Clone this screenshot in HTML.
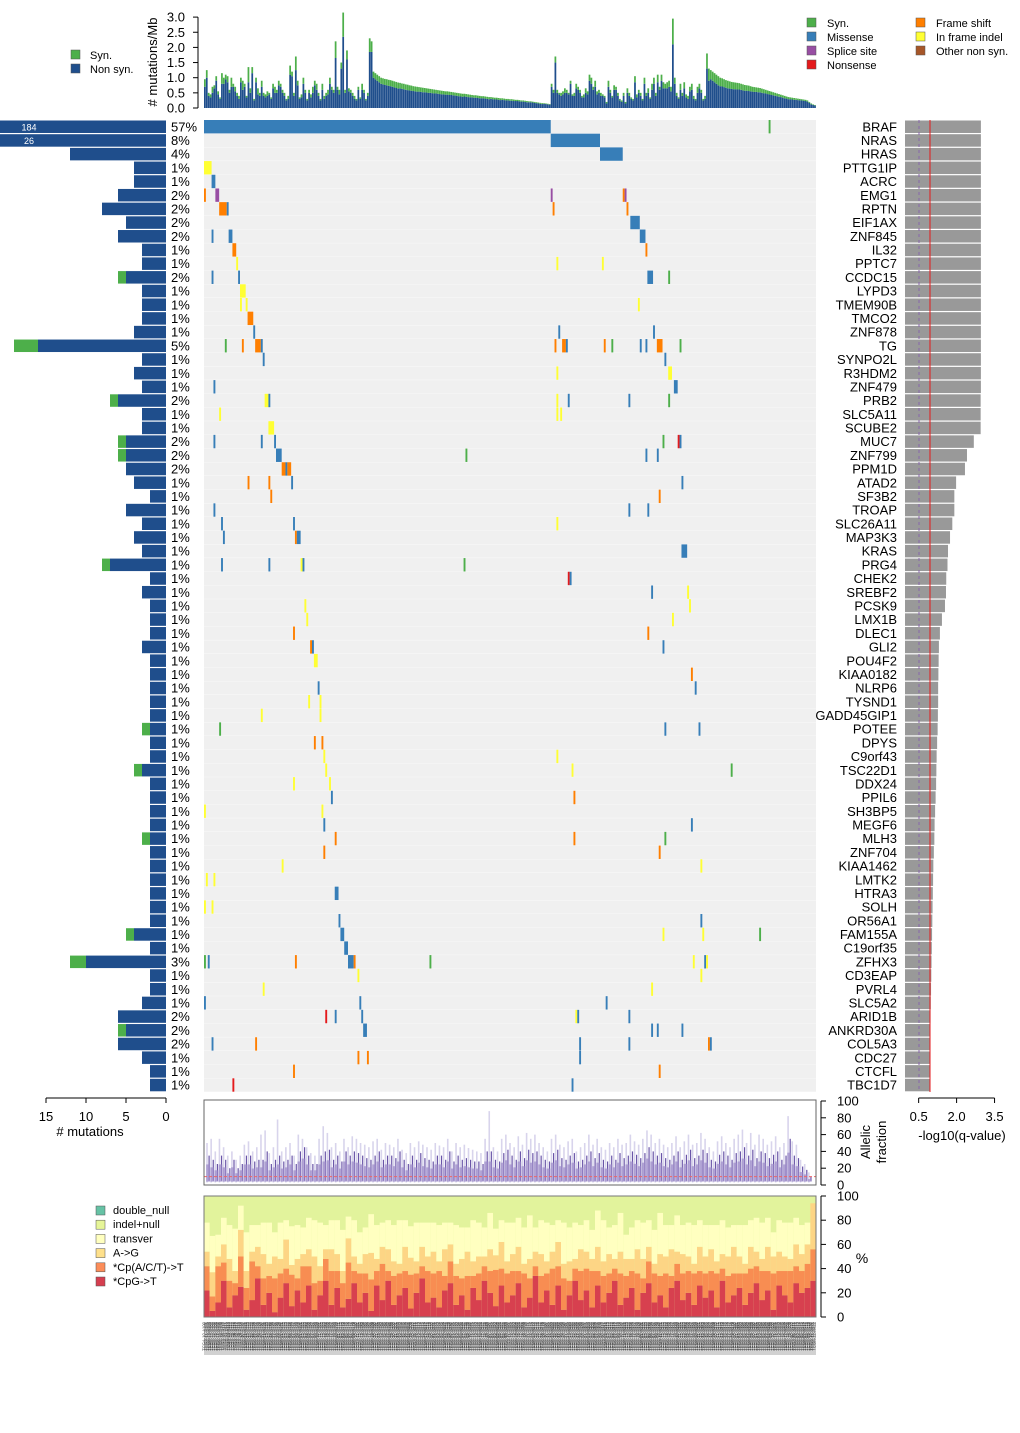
<!DOCTYPE html>
<html><head><meta charset="utf-8"><style>
body{margin:0;background:#fff;}
svg text{font-family:"Liberation Sans",sans-serif;}
</style></head><body>
<svg id="c" width="1020" height="1428" viewBox="0 0 1020 1428" xmlns="http://www.w3.org/2000/svg"></svg>
<script>
// ---------- data ----------
const genes=["BRAF","NRAS","HRAS","PTTG1IP","ACRC","EMG1","RPTN","EIF1AX","ZNF845","IL32","PPTC7","CCDC15","LYPD3","TMEM90B","TMCO2","ZNF878","TG","SYNPO2L","R3HDM2","ZNF479","PRB2","SLC5A11","SCUBE2","MUC7","ZNF799","PPM1D","ATAD2","SF3B2","TROAP","SLC26A11","MAP3K3","KRAS","PRG4","CHEK2","SREBF2","PCSK9","LMX1B","DLEC1","GLI2","POU4F2","KIAA0182","NLRP6","TYSND1","GADD45GIP1","POTEE","DPYS","C9orf43","TSC22D1","DDX24","PPIL6","SH3BP5","MEGF6","MLH3","ZNF704","KIAA1462","LMTK2","HTRA3","SOLH","OR56A1","FAM155A","C19orf35","ZFHX3","CD3EAP","PVRL4","SLC5A2","ARID1B","ANKRD30A","COL5A3","CDC27","CTCFL","TBC1D7"];
const pcts=["57%","8%","4%","1%","1%","2%","2%","2%","2%","1%","1%","2%","1%","1%","1%","1%","5%","1%","1%","1%","2%","1%","1%","2%","2%","2%","1%","1%","1%","1%","1%","1%","1%","1%","1%","1%","1%","1%","1%","1%","1%","1%","1%","1%","1%","1%","1%","1%","1%","1%","1%","1%","1%","1%","1%","1%","1%","1%","1%","1%","1%","3%","1%","1%","1%","2%","2%","2%","1%","1%","1%"];
const nonsynCounts=[184,26,12,4,4,6,8,5,6,3,3,5,3,3,3,4,16,3,4,3,6,3,3,5,5,5,4,2,5,3,4,3,7,2,3,2,2,2,3,2,2,2,2,2,2,2,2,3,2,2,2,2,2,2,2,2,2,2,2,4,2,10,2,2,3,6,5,6,3,2,2];
const synCounts=[0,0,0,0,0,0,0,0,0,0,0,1,0,0,0,0,3,0,0,0,1,0,0,1,1,0,0,0,0,0,0,0,1,0,0,0,0,0,0,0,0,0,0,0,1,0,0,1,0,0,0,0,1,0,0,0,0,0,0,1,0,2,0,0,0,0,1,0,0,0,0];
const qvals=[3.0,3.0,3.0,3.0,3.0,3.0,3.0,3.0,3.0,3.0,3.0,3.0,3.0,3.0,3.0,3.0,3.0,3.0,3.0,3.0,2.99,2.99,2.99,2.72,2.45,2.37,2.02,1.95,1.95,1.87,1.78,1.7,1.68,1.63,1.62,1.58,1.46,1.38,1.34,1.33,1.32,1.31,1.31,1.3,1.29,1.27,1.25,1.24,1.23,1.21,1.19,1.17,1.16,1.14,1.12,1.11,1.1,1.09,1.08,1.07,1.06,1.05,1.04,1.03,1.02,1.01,1.0,1.0,0.99,0.98,0.98];
const muts=[[0,0,182,1],[0,298,298,0],[1,183,208,1],[2,209,220,1],[3,0,3,5],[4,4,5,1],
[5,0,0,4],[5,6,7,2],[5,183,183,2],[5,221,221,4],[5,222,222,2],
[6,8,11,4],[6,12,12,1],[6,184,184,4],[6,223,223,4],[7,225,229,1],
[8,4,4,1],[8,13,14,1],[8,230,232,1],[9,15,16,4],[9,233,233,4],
[10,17,17,5],[10,186,186,5],[10,210,210,5],
[11,4,4,1],[11,18,18,1],[11,234,236,1],[11,245,245,0],[12,19,21,5],
[13,19,19,5],[13,22,22,5],[13,229,229,5],[14,23,25,4],
[15,26,26,1],[15,187,187,1],[15,237,237,1],
[16,11,11,0],[16,20,20,4],[16,27,29,4],[16,30,30,1],[16,185,185,4],[16,189,190,4],[16,191,191,1],[16,211,211,4],[16,215,215,0],[16,230,230,1],[16,233,233,1],[16,239,241,4],[16,251,251,0],
[17,31,31,1],[17,243,243,1],[18,186,186,5],[18,245,246,5],[19,5,5,1],[19,248,249,1],
[20,32,33,5],[20,34,34,1],[20,186,186,5],[20,192,192,1],[20,224,224,1],[20,245,245,0],
[21,8,8,5],[21,186,186,5],[21,188,188,5],[22,34,36,5],
[23,5,5,1],[23,30,30,1],[23,37,37,1],[23,242,242,0],[23,250,250,3],[23,251,251,1],
[24,38,40,1],[24,138,138,0],[24,233,233,1],[24,239,239,1],
[25,41,42,4],[25,43,43,1],[25,44,45,4],
[26,23,23,4],[26,34,34,4],[26,46,46,1],[26,252,252,1],[27,35,35,4],[27,240,240,4],
[28,5,5,1],[28,224,224,1],[28,234,234,1],[29,9,9,1],[29,47,47,1],[29,186,186,5],
[30,10,10,1],[30,48,48,4],[30,49,50,1],[31,252,254,1],
[32,9,9,1],[32,34,34,1],[32,51,51,5],[32,52,52,1],[32,137,137,0],
[33,192,192,3],[33,193,193,1],[34,236,236,1],[34,255,255,5],[35,53,53,5],[35,256,256,5],
[36,54,54,5],[36,247,247,5],[37,47,47,4],[37,234,234,4],[38,56,56,4],[38,57,57,1],[38,242,242,1],
[39,58,59,5],[40,257,257,4],[41,60,60,1],[41,259,259,1],[42,55,55,5],[42,61,61,5],[43,30,30,5],[43,61,61,5],
[44,8,8,0],[44,243,243,1],[44,261,261,1],[45,58,58,4],[45,62,62,4],[46,63,63,5],[46,186,186,5],
[47,64,64,5],[47,194,194,5],[47,278,278,0],[48,47,47,5],[48,66,66,5],[49,67,67,1],[49,195,195,4],
[50,0,0,5],[50,62,62,5],[51,63,63,1],[51,257,257,1],[52,69,69,4],[52,195,195,4],[52,243,243,0],
[53,63,63,4],[53,240,240,4],[54,41,41,5],[54,262,262,5],[55,1,1,5],[55,5,5,5],[56,69,70,1],
[57,0,0,5],[57,4,4,5],[58,71,71,1],[58,262,262,1],
[59,72,73,1],[59,242,242,5],[59,263,263,5],[59,293,293,0],[60,74,75,1],
[61,0,0,0],[61,2,2,1],[61,48,48,4],[61,76,78,1],[61,79,79,4],[61,119,119,0],[61,258,258,5],[61,264,264,1],[61,265,265,5],
[62,81,81,5],[62,262,262,5],[63,31,31,5],[63,236,236,5],[64,0,0,1],[64,82,82,1],[64,212,212,1],
[65,64,64,3],[65,69,69,1],[65,83,83,1],[65,196,196,5],[65,197,197,1],[65,224,224,1],
[66,84,85,1],[66,236,236,1],[66,239,239,1],[66,252,252,1],
[67,4,4,1],[67,27,27,4],[67,198,198,1],[67,224,224,1],[67,266,266,4],[67,267,267,1],
[68,81,81,4],[68,86,86,4],[68,198,198,1],[69,47,47,4],[69,240,240,4],[70,15,15,3],[70,194,194,1]];
const mutColors=["#4daf4a","#377eb8","#984ea3","#e41a1c","#ff7f00","#ffff33","#a65628"];
const totRate=[0.95,1.25,0.5,0.45,0.7,0.75,1.05,0.55,0.35,1.15,1.0,1.1,1.05,0.6,1.0,0.8,0.7,0.5,0.4,1.0,0.9,0.8,0.4,1.35,0.65,1.35,0.3,1.0,0.65,0.5,0.9,0.5,0.45,0.55,0.5,0.35,0.8,0.7,0.6,0.9,0.8,0.6,0.5,0.3,0.4,1.4,1.2,0.5,1.7,0.9,0.35,0.45,1.0,0.6,0.3,0.6,0.45,0.7,0.9,0.8,0.5,0.3,0.8,0.4,0.5,0.6,1.0,0.7,0.6,2.2,0.7,0.6,1.5,3.15,0.6,1.9,0.65,0.6,0.5,0.4,0.3,0.7,0.35,0.8,0.6,0.3,0.5,2.3,2.2,1.2,1.15,1.1,1.05,
1.0,0.98,0.96,0.95,0.93,0.92,0.9,0.88,0.86,0.84,0.83,0.81,0.8,0.78,0.77,0.75,0.74,0.72,0.71,0.7,0.69,0.68,0.67,0.66,0.65,0.64,0.63,0.62,0.61,0.6,0.59,0.58,0.57,0.56,0.55,0.55,0.54,0.53,0.52,0.51,0.5,0.49,0.48,0.47,0.47,0.46,0.45,0.44,0.43,0.42,0.42,0.41,0.4,0.39,0.39,0.38,0.37,0.36,0.36,0.35,0.34,0.34,0.33,0.32,0.32,0.31,0.3,0.3,0.29,0.29,0.28,0.27,0.27,0.26,0.25,0.25,0.24,0.23,0.22,0.22,0.21,0.2,0.19,0.18,0.17,0.16,0.16,0.15,0.14,0.13,
0.8,0.6,1.7,0.6,0.5,0.5,0.55,0.65,0.6,0.5,0.9,0.45,0.5,0.8,0.7,0.6,0.4,0.45,0.65,0.55,1.1,1.0,0.7,0.9,0.55,0.6,0.5,0.45,0.4,0.2,0.9,0.6,0.4,0.75,0.7,0.5,0.3,0.25,0.5,
0.2,0.65,0.5,0.35,0.3,1.05,0.45,0.6,0.5,0.3,1.0,0.5,0.65,0.35,0.8,1.0,0.5,1.1,0.7,1.1,0.85,0.8,0.85,0.9,0.7,2.95,1.0,0.5,0.35,0.8,0.5,0.85,0.45,0.4,0.7,0.8,0.4,0.3,0.7,0.8,0.6,0.3,0.4,1.8,1.3,1.25,
1.2,1.15,1.1,1.05,1.0,0.98,0.95,0.92,0.9,0.88,0.86,0.85,0.84,0.83,0.82,0.8,0.78,0.76,0.75,0.74,0.72,0.7,0.69,0.68,0.67,0.66,0.64,0.62,0.6,0.58,0.56,0.54,0.52,0.5,0.48,0.46,0.44,0.42,0.4,0.38,0.36,0.35,0.34,0.33,0.32,0.31,0.3,0.29,0.28,0.27,0.25,0.2,0.15,0.12,0.1];
const synRate=[0.25,0.25,0.1,0.1,0.2,0.1,0.15,0.1,0.05,0.35,0.2,0.15,0.2,0.1,0.3,0.1,0.15,0.1,0.1,0.15,0.3,0.1,0.05,0.5,0.15,0.2,0.05,0.15,0.2,0.1,0.2,0.1,0.1,0.15,0.05,0.05,0.15,0.2,0.1,0.15,0.1,0.1,0.1,0.05,0.1,0.3,0.15,0.1,0.45,0.15,0.05,0.1,0.2,0.1,0.05,0.1,0.1,0.2,0.15,0.2,0.1,0.05,0.2,0.1,0.1,0.15,0.2,0.1,0.1,0.55,0.1,0.15,0.2,0.8,0.1,0.3,0.1,0.1,0.1,0.1,0.05,0.1,0.05,0.2,0.1,0.05,0.1,0.45,0.35,0.2,0.2,0.2,0.2,
0.2,0.2,0.2,0.2,0.2,0.2,0.2,0.2,0.2,0.2,0.18,0.18,0.18,0.18,0.18,0.17,0.17,0.16,0.16,0.16,0.15,0.15,0.15,0.14,0.14,0.14,0.13,0.13,0.13,0.12,0.12,0.12,0.12,0.11,0.11,0.11,0.11,0.1,0.1,0.1,0.1,0.1,0.1,0.1,0.09,0.09,0.09,0.09,0.08,0.08,0.08,0.08,0.08,0.07,0.07,0.07,0.07,0.07,0.06,0.06,0.06,0.06,0.06,0.06,0.05,0.05,0.05,0.05,0.05,0.05,0.05,0.04,0.04,0.04,0.04,0.04,0.04,0.04,0.03,0.03,0.03,0.03,0.03,0.03,0.03,0.03,0.02,0.02,0.02,0.02,
0.1,0.1,0.2,0.1,0.05,0.1,0.1,0.15,0.1,0.05,0.1,0.05,0.1,0.15,0.1,0.1,0.05,0.1,0.15,0.1,0.2,0.2,0.1,0.2,0.1,0.1,0.1,0.05,0.05,0.05,0.2,0.1,0.05,0.15,0.1,0.1,0.05,0.05,0.1,
0.05,0.15,0.1,0.05,0.05,0.2,0.1,0.1,0.1,0.05,0.2,0.1,0.15,0.05,0.2,0.2,0.1,0.25,0.1,0.2,0.2,0.15,0.2,0.2,0.15,0.85,0.2,0.1,0.05,0.2,0.1,0.2,0.1,0.1,0.15,0.2,0.1,0.05,0.2,0.15,0.1,0.05,0.1,0.5,0.4,0.3,
0.3,0.3,0.3,0.3,0.28,0.27,0.26,0.25,0.25,0.24,0.23,0.23,0.22,0.22,0.21,0.2,0.2,0.19,0.18,0.18,0.17,0.16,0.16,0.15,0.15,0.14,0.14,0.13,0.12,0.12,0.11,0.11,0.1,0.1,0.09,0.09,0.08,0.08,0.08,0.07,0.07,0.06,0.06,0.06,0.05,0.05,0.05,0.04,0.04,0.04,0.04,0.03,0.03,0.02,0.02];
const afHigh=[50,55,40,55,45,35,40,30,35,48,52,40,45,60,65,38,45,78,40,45,50,35,60,55,45,38,35,55,70,62,45,50,40,55,45,58,55,50,48,45,52,55,42,50,48,45,55,42,38,50,45,52,48,45,42,50,47,45,55,40,50,45,48,44,42,40,38,55,88,45,40,55,60,50,45,58,48,62,55,60,50,45,40,55,60,48,45,52,55,40,45,50,60,48,55,45,42,50,45,55,48,50,60,52,48,55,65,60,50,55,48,45,50,58,45,52,60,48,50,62,55,45,40,52,58,50,45,55,60,66,50,62,48,60,55,48,52,58,45,50,82,52,48,30,25,15];
const afMid=[35,30,25,35,30,20,30,20,25,35,35,28,30,30,40,25,30,35,28,30,35,25,40,45,35,25,25,35,40,42,30,35,28,40,35,40,38,35,32,30,35,40,30,35,35,32,40,30,25,35,30,38,32,30,28,35,35,30,40,28,35,30,32,30,28,28,25,40,40,30,28,38,42,35,30,40,32,42,38,40,35,30,28,38,42,32,30,35,38,28,30,35,40,32,38,30,28,35,30,38,32,35,40,36,32,38,45,40,35,38,32,30,35,40,30,36,42,32,35,42,38,30,28,36,40,35,30,38,40,45,35,42,32,40,38,32,36,40,30,35,55,35,32,22,18,10];
const cpgT=[22,5,12,30,8,18,25,6,14,32,10,20,4,16,28,9,22,12,26,6,18,30,10,24,8,15,28,12,20,5,26,14,30,10,18,24,7,20,32,12,16,8,22,28,10,18,6,24,14,30,20,9,26,12,18,28,8,16,34,12,22,10,26,6,18,30,14,22,8,26,12,20,30,10,16,24,6,20,28,12,18,8,24,30,14,20,10,26,16,22,8,30,12,18,24,10,20,28,14,22,6,26,18,12,28,20,24,30];
const cpaT=[20,12,30,15,22,10,25,18,32,10,22,14,28,20,12,26,10,30,16,22,12,18,28,14,20,30,10,24,16,26,12,30,8,24,18,14,28,16,10,26,20,30,12,18,24,14,28,10,22,12,18,30,14,24,20,10,28,16,8,22,14,30,16,26,12,10,24,18,30,12,22,16,10,26,18,14,30,12,18,24,16,28,10,14,22,18,26,12,20,16,28,10,22,18,12,26,20,14,24,16,30,12,20,26,14,18,20,26];
const agT=[12,20,8,15,18,10,22,14,8,16,20,10,18,12,24,8,16,10,14,22,12,8,18,14,10,20,12,8,16,22,10,14,18,12,8,20,14,10,16,12,18,8,22,14,10,16,20,12,14,8,18,12,22,10,14,20,8,16,12,18,10,14,20,12,16,8,18,14,10,20,12,16,8,18,14,10,20,16,12,8,18,14,22,10,16,12,8,20,14,18,10,12,16,22,14,8,18,12,10,20,14,16,12,10,18,14,16,38];
const transverT=[24,30,18,22,28,35,20,32,22,18,26,34,20,30,16,32,28,22,26,30,36,20,24,28,34,18,30,26,22,32,28,20,24,30,36,22,26,32,20,28,24,30,22,18,32,26,20,34,28,24,30,22,18,32,26,24,30,36,20,28,32,22,18,34,28,30,20,26,24,30,34,22,28,32,20,26,24,30,22,28,34,26,20,30,24,28,32,22,26,20,30,28,24,18,26,32,22,28,30,24,20,26,28,30,22,24,18,0];
const countLabels=["184","26"];
const axTopTicks=[0,0.5,1,1.5,2,2.5,3];
const afTicks=[0,20,40,60,80,100];
const leftTicks=[0,5,10,15];
const qTicks=[0.5,2.0,3.5];

const svg=document.getElementById('c');
const NS="http://www.w3.org/2000/svg";
function mk(tag,attrs,parent){const e=document.createElementNS(NS,tag);for(const k in attrs)e.setAttribute(k,attrs[k]);(parent||svg).appendChild(e);return e;}
function txt(s,x,y,size,anchor,parent,fill){const t=mk('text',{x:x,y:y,'font-size':size,'text-anchor':anchor||'start',fill:fill||'#000'},parent);t.textContent=s;return t;}

const N=totRate.length;
const X0=204,X1=816,W=X1-X0,sw=W/N;
const sx=i=>X0+i*sw;
const rowTop=120,rowH=13.69;
const ry=g=>rowTop+g*rowH;

// top mutation rate bars
const gTop=mk('g',{});


const yRate=v=>108-v*30.3;
for(let i=0;i<N;i++){
  const t=totRate[i],s=Math.min(synRate[i],t);
  const b=mk('rect',{x:sx(i),y:yRate(t-s),width:sw*0.92,height:108-yRate(t-s),fill:'#1f4e8c'},gTop);
  
  
  const b2=mk('rect',{x:sx(i),y:yRate(t),width:sw*0.92,height:yRate(t-s)-yRate(t),fill:'#4daf4a'},gTop);
  
  
}
mk('line',{x1:198,y1:yRate(0),x2:198,y2:yRate(3),stroke:'#000','stroke-width':1},gTop);
axTopTicks.forEach(v=>{mk('line',{x1:193,y1:yRate(v),x2:198,y2:yRate(v),stroke:'#000'},gTop);txt(v.toFixed(1),185,yRate(v)+4.5,13,'end',gTop);});
const yt=txt('# mutations/Mb',0,0,13,'middle',gTop);yt.setAttribute('transform','translate(157,62) rotate(-90)');



const lg=mk('g',{});


mk('rect',{x:71,y:50,width:9,height:9,fill:'#4daf4a',stroke:'#555','stroke-width':0.5},lg);txt('Syn.',90,59,11,'start',lg);
mk('rect',{x:71,y:64,width:9,height:9,fill:'#1f4e8c',stroke:'#555','stroke-width':0.5},lg);txt('Non syn.',90,73,11,'start',lg);
const lg2=mk('g',{});


[["Syn.",0],["Missense",1],["Splice site",2],["Nonsense",3]].forEach((d,k)=>{mk('rect',{x:807,y:18+k*14,width:9,height:9,fill:mutColors[d[1]],stroke:'#555','stroke-width':0.5},lg2);txt(d[0],827,27+k*14,11,'start',lg2);});
[["Frame shift",4],["In frame indel",5],["Other non syn.",6]].forEach((d,k)=>{mk('rect',{x:916,y:18+k*14,width:9,height:9,fill:mutColors[d[1]],stroke:'#555','stroke-width':0.5},lg2);txt(d[0],936,27+k*14,11,'start',lg2);});

// matrix
const gm=mk('g',{});


genes.forEach((g,k)=>{mk('rect',{x:X0,y:ry(k),width:W,height:rowH-0.3,fill:'#f0f0f0'},gm);});
muts.forEach(m=>{
  const r=mk('rect',{x:sx(m[1]),y:ry(m[0]),width:(m[2]-m[1]+1)*sw,height:rowH-0.3,fill:mutColors[m[3]]},gm);
  
  
});

const lx=c=>166-c*8;
genes.forEach((g,k)=>{
  const yc=ry(k)+rowH/2+4.5;
  const gl=txt(g,897,yc,13,'end');
  
  
  txt(pcts[k],171,yc,13,'start');
  const ns=nonsynCounts[k],sy=synCounts[k];
  const b=mk('rect',{x:Math.max(0,lx(ns)),y:ry(k)+0.5,width:166-Math.max(0,lx(ns)),height:rowH-1.2,fill:'#1f4e8c'});
  
  
  if(sy>0){const b2=mk('rect',{x:Math.max(0,lx(ns+sy)),y:ry(k)+0.5,width:lx(ns)-Math.max(0,lx(ns+sy)),height:rowH-1.2,fill:'#4daf4a'});
  
  }
  const qb=mk('rect',{x:905,y:ry(k)+0.5,width:qvals[k]*25.3,height:rowH-1.2,fill:'#999'});
  
  
});
countLabels.forEach((s,k)=>txt(s,29,ry(k)+rowH/2+3.5,9,'middle',svg,'#fff'));
mk('line',{x1:919,y1:120,x2:919,y2:1092,stroke:'#8866aa','stroke-width':1,'stroke-dasharray':'3,3'});
mk('line',{x1:930,y1:120,x2:930,y2:1092,stroke:'#e41a1c','stroke-width':1});
mk('line',{x1:46,y1:1098,x2:166,y2:1098,stroke:'#000'});
leftTicks.forEach(v=>{mk('line',{x1:lx(v),y1:1098,x2:lx(v),y2:1103,stroke:'#000'});txt(String(v),lx(v),1121,13,'middle');});
const xl=txt('# mutations',90,1136,13,'middle');
const qx=v=>906+v*25.3;
mk('line',{x1:qx(0.5),y1:1098,x2:qx(3.5),y2:1098,stroke:'#000'});
qTicks.forEach(v=>{mk('line',{x1:qx(v),y1:1098,x2:qx(v),y2:1103,stroke:'#000'});txt(v.toFixed(1),qx(v),1121,13,'middle');});
txt('-log10(q-value)',962,1140,13,'middle');

// allelic fraction
const ga=mk('g',{});


const ay=v=>1185-v*0.84;
const na=afHigh.length,aw=W/na;
for(let i=0;i<na;i++){
  const x=X0+3+i*aw*((W-6)/W);
  mk('line',{x1:x,y1:ay(3),x2:x,y2:ay(afHigh[i]),stroke:'#d8d4ec','stroke-width':1.6},ga);
  mk('line',{x1:x+aw/2,y1:ay(5),x2:x+aw/2,y2:ay(afMid[i]),stroke:'#6a55a8','stroke-width':1.2},ga);
  mk('rect',{x:x-aw*0.2,y:ay(afMid[i]*0.7),width:aw*0.9,height:ay(4)-ay(afMid[i]*0.7),fill:'#9a88c8',opacity:0.7},ga);
}
mk('line',{x1:X0,y1:ay(10),x2:X1,y2:ay(10),stroke:'#ee6666','stroke-width':1,'stroke-dasharray':'3,2'},ga);
mk('rect',{x:X0,y:1100,width:W,height:85,fill:'none',stroke:'#666'},ga);
mk('line',{x1:821,y1:ay(0),x2:821,y2:ay(100),stroke:'#000'},ga);
afTicks.forEach(v=>{mk('line',{x1:821,y1:ay(v),x2:826,y2:ay(v),stroke:'#000'},ga);txt(String(v),837,ay(v)+4.5,13,'start',ga);});
const a1=txt('Allelic',0,0,13,'middle',ga);a1.setAttribute('transform','translate(870,1142) rotate(-90)');
const a2=txt('fraction',0,0,13,'middle',ga);a2.setAttribute('transform','translate(886,1142) rotate(-90)');

// spectrum
const gs=mk('g',{});


const py=v=>1317-v*1.21;
const nb=cpgT.length,bw=W/nb;
const specCols=['#d7404f','#f88d52','#fdd585','#ffffc0','#e2f39c'];
for(let i=0;i<nb;i++){
  const vals=[cpgT[i],cpaT[i],agT[i],transverT[i]];
  let acc=0;const x=X0+i*bw;
  mk('rect',{x:x,y:py(100),width:bw+0.3,height:py(0)-py(100),fill:specCols[4]},gs);
  vals.forEach((v,k)=>{mk('rect',{x:x,y:py(acc+v),width:bw+0.3,height:py(acc)-py(acc+v),fill:specCols[k]},gs);acc+=v;});
}
mk('rect',{x:X0,y:1196,width:W,height:121,fill:'none',stroke:'#777'},gs);
mk('line',{x1:821,y1:py(0),x2:821,y2:py(100),stroke:'#000'},gs);
afTicks.forEach(v=>{mk('line',{x1:821,y1:py(v),x2:826,y2:py(v),stroke:'#000'},gs);txt(String(v),837,py(v)+4.5,13,'start',gs);});
txt('%',862,1263,14,'middle',gs);
const sl=mk('g',{});


[["double_null","#66c2a5"],["indel+null","#e6f598"],["transver","#ffffbf"],["A->G","#fee08b"],["*Cp(A/C/T)->T","#fc8d59"],["*CpG->T","#d53e4f"]].forEach((d,k)=>{
  mk('rect',{x:96,y:1206+k*14.2,width:9,height:9,fill:d[1],stroke:'#555','stroke-width':0.5},sl);txt(d[0],113,1214+k*14.2,11,'start',sl);});

// sample labels
const gl=mk('g',{});


mk('rect',{x:X0,y:1322,width:W,height:33,fill:'#999',opacity:0.45},gl);
for(let i=0;i<N;i++){
  const t=txt('TCGA-'+(10+i%80)+'-A'+(100+i),0,0,4.2,'end',gl,'#333');
  t.setAttribute('transform','translate('+(sx(i)+sw*0.8)+',1322) rotate(-90)');
}
</script>
</body></html>
